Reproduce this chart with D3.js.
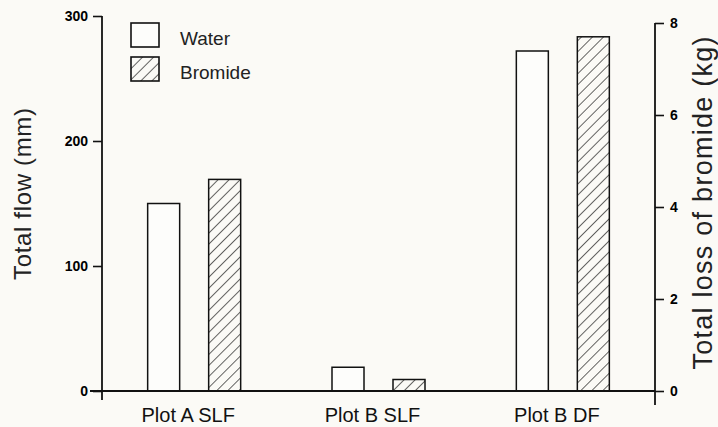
<!DOCTYPE html>
<html>
<head>
<meta charset="utf-8">
<script src="https://cdn.jsdelivr.net/npm/d3@7"></script>
<style>
  html, body { margin: 0; padding: 0; background: #fbfaf6; }
  svg { display: block; font-family: "Liberation Sans", Arial, Helvetica, sans-serif; }
</style>
</head>
<body>
<svg id="chart" width="718" height="427"></svg>
<script>
// Plots and measured totals
const categories = ["Plot A SLF", "Plot B SLF", "Plot B DF"];
const waterFlow = [150, 19, 272];        // total flow, mm (left axis)
const bromideLoss = [4.6, 0.25, 7.7];    // total loss of bromide, kg (right axis)
const flowTicks = [0, 100, 200, 300];
const lossTicks = [0, 2, 4, 6, 8];
const seriesNames = ["Water", "Bromide"];

const svg = d3.select("#chart");
const ink = "#111";

// Hatch for the bromide bars
const defs = svg.append("defs");
defs.append("pattern")
  .attr("id", "hatch")
  .attr("patternUnits", "userSpaceOnUse")
  .attr("width", 7.8).attr("height", 7.8)
  .attr("patternTransform", "rotate(45)")
  .append("line")
  .attr("x1", 0).attr("y1", 0).attr("x2", 0).attr("y2", 7.8)
  .attr("stroke", ink).attr("stroke-width", 1.3);

const xLeft = 102, xRight = 655, yBase = 391;

const x = d3.scaleBand().domain(categories).range([xLeft, xRight]).padding(0);
const yFlow = d3.scaleLinear().domain([0, 300]).range([yBase, 16]);
const yLoss = d3.scaleLinear().domain([0, 8]).range([yBase, 23]);

const barW = 32, pairOffset = 30.5;

// Water bars
svg.append("g").selectAll("rect")
  .data(categories)
  .join("rect")
  .attr("x", (d) => x(d) + x.bandwidth() / 2 - pairOffset - barW / 2)
  .attr("y", (d, i) => yFlow(waterFlow[i]))
  .attr("width", barW)
  .attr("height", (d, i) => yBase - yFlow(waterFlow[i]))
  .attr("fill", "#fdfdfb")
  .attr("stroke", ink).attr("stroke-width", 1.5);

// Bromide bars
svg.append("g").selectAll("rect")
  .data(categories)
  .join("rect")
  .attr("x", (d) => x(d) + x.bandwidth() / 2 + pairOffset - barW / 2)
  .attr("y", (d, i) => yLoss(bromideLoss[i]))
  .attr("width", barW)
  .attr("height", (d, i) => yBase - yLoss(bromideLoss[i]))
  .attr("fill", "url(#hatch)")
  .attr("stroke", ink).attr("stroke-width", 1.5);

// Left axis
const gLeft = svg.append("g").attr("transform", `translate(${xLeft},0)`)
  .call(d3.axisLeft(yFlow).tickValues(flowTicks).tickSize(9).tickPadding(5).tickSizeOuter(0));
gLeft.select(".domain").remove();
gLeft.selectAll(".tick line").attr("stroke", ink).attr("stroke-width", 1.6);
gLeft.selectAll(".tick text").attr("fill", "#000")
  .style("font-size", "14px").style("font-weight", "bold");
gLeft.append("line")
  .attr("x1", 0).attr("x2", 0)
  .attr("y1", yFlow(300)).attr("y2", yBase + 9)
  .attr("stroke", ink).attr("stroke-width", 1.8);

// Right axis
const gRight = svg.append("g").attr("transform", `translate(${xRight},0)`)
  .call(d3.axisRight(yLoss).tickValues(lossTicks).tickSize(9).tickPadding(6).tickSizeOuter(0));
gRight.select(".domain").remove();
gRight.selectAll(".tick line").attr("stroke", ink).attr("stroke-width", 1.6);
gRight.selectAll(".tick text").attr("fill", "#000")
  .style("font-size", "14px").style("font-weight", "bold");
gRight.append("line")
  .attr("x1", 0).attr("x2", 0)
  .attr("y1", yLoss(8)).attr("y2", yBase + 14)
  .attr("stroke", ink).attr("stroke-width", 1.8);

// Baseline and category labels
svg.append("line")
  .attr("x1", 90).attr("x2", xRight)
  .attr("y1", yBase).attr("y2", yBase)
  .attr("stroke", ink).attr("stroke-width", 1.8);
const gBottom = svg.append("g").attr("transform", `translate(0,${yBase})`)
  .call(d3.axisBottom(x).tickSize(0));
gBottom.select(".domain").remove();
gBottom.selectAll(".tick text")
  .attr("y", 31).attr("dy", 0).attr("dx", -6)
  .attr("fill", ink)
  .style("font-size", "20px");

// Axis titles
svg.append("text")
  .attr("transform", "translate(31,194) rotate(-90)")
  .attr("text-anchor", "middle")
  .attr("textLength", 172).attr("lengthAdjust", "spacing")
  .style("font-size", "24px").attr("fill", "#222")
  .text("Total flow (mm)");
svg.append("text")
  .attr("transform", "translate(712,203) rotate(-90)")
  .attr("text-anchor", "middle")
  .attr("textLength", 333).attr("lengthAdjust", "spacing")
  .style("font-size", "27px").attr("fill", "#222")
  .text("Total loss of bromide (kg)");

// Legend
const legend = svg.append("g");
const legendRows = legend.selectAll("g")
  .data(seriesNames)
  .join("g")
  .attr("transform", (d, i) => `translate(131,${23 + i * 34})`);
legendRows.append("rect")
  .attr("width", 28).attr("height", 24)
  .attr("fill", (d, i) => i === 0 ? "#fdfdfb" : "url(#hatch)")
  .attr("stroke", ink).attr("stroke-width", 1.6);
legendRows.append("text")
  .attr("x", 49).attr("y", 22)
  .style("font-size", "19px").attr("fill", "#222")
  .text((d) => d);
</script>
</body>
</html>
